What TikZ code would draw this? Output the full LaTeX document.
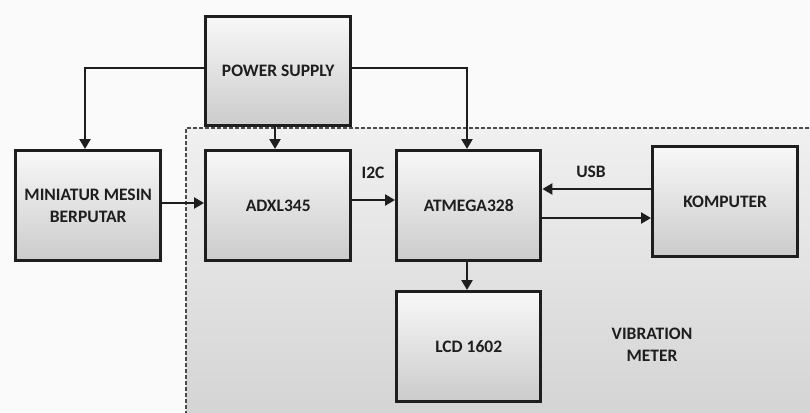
\documentclass[tikz,border=0pt]{standalone}
\usepackage{fontspec}
\setmainfont{Carlito}
\usetikzlibrary{arrows.meta}
\definecolor{bg}{HTML}{FAFAFA}
\definecolor{boxtop}{HTML}{F8F8F8}
\definecolor{boxbot}{HTML}{CBCBCB}
\definecolor{regtop}{HTML}{F0F0F0}
\definecolor{regbot}{HTML}{D4D4D4}
\definecolor{ink}{HTML}{1E1E1E}
\tikzset{
  blk/.style={draw=ink, line width=3.4pt, top color=boxtop, bottom color=boxbot,
    minimum width=145pt, minimum height=109pt, anchor=north west, align=center,
    font=\bfseries\fontsize{17.5}{22}\selectfont, text=ink, inner sep=0pt},
  conn/.style={draw=ink, line width=2.6pt, -{Triangle[length=10pt,width=11pt]}},
  lbl/.style={font=\bfseries\fontsize{17.5}{22}\selectfont, text=ink, align=center},
}
\begin{document}
\begin{tikzpicture}[x=1pt,y=-1pt]
\useasboundingbox (0,0) rectangle (810,412);
\fill[bg] (0,0) rectangle (810,412);
% vibration meter region
\path[top color=regtop, bottom color=regbot] (186,128) rectangle (815,417);
\draw[ink!80, line width=1.5pt, dash pattern=on 4pt off 2pt] (815,128) -- (186,128) -- (186,417);
\node[blk] (ps) at (204,15) {POWER SUPPLY};
\node[blk, minimum height=110pt] (mm) at (14,149) {MINIATUR MESIN\\BERPUTAR};
\node[blk, minimum height=110pt] (adxl) at (204,149) {ADXL345};
\node[blk, minimum width=144pt, minimum height=110pt] (atm) at (395,149) {ATMEGA328};
\node[blk, minimum height=110pt] (komp) at (651,145) {KOMPUTER};
\node[blk, minimum width=144pt, minimum height=110pt] (lcd) at (395,290) {LCD 1602};
\node[lbl] (vm) at (652,345) {VIBRATION\\METER};
\node[lbl] (i2c) at (373,173) {I2C};
\node[lbl] (usb) at (591,172) {USB};
\coordinate (pl) at (85,68);
\coordinate (pr) at (467,68);
\draw[conn] (ps.west |- pl) -- (pl) -- (pl |- mm.north);
\draw[conn] (ps.east |- pr) -- (pr) -- (pr |- atm.north);
\draw[conn] (275,0 |- ps.south) -- (275,0 |- adxl.north);
\draw[conn] (mm.east |- 0,203) -- (adxl.west |- 0,203);
\draw[conn] (adxl.east |- 0,200) -- (atm.west |- 0,200);
\draw[conn] (komp.west |- 0,189) -- (atm.east |- 0,189);
\draw[conn] (atm.east |- 0,218) -- (komp.west |- 0,218);
\draw[conn] (467,0 |- atm.south) -- (467,0 |- lcd.north);
\end{tikzpicture}
\end{document}
